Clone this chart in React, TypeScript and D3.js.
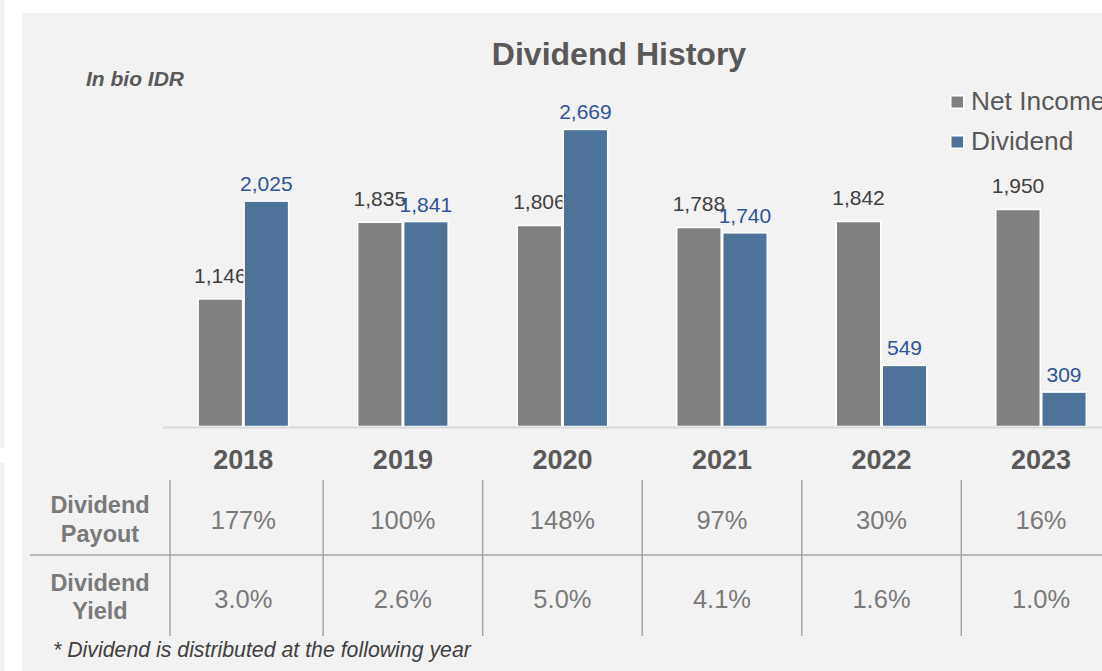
import React from "react";
import * as d3 from "d3";

const years = ["2018", "2019", "2020", "2021", "2022", "2023"];
const netIncome = [1146, 1835, 1806, 1788, 1842, 1950];
const dividend = [2025, 1841, 2669, 1740, 549, 309];
const seriesNames = ["Net Income", "Dividend"];
const payout = ["177%", "100%", "148%", "97%", "30%", "16%"];
const yieldVals = ["3.0%", "2.6%", "5.0%", "4.1%", "1.6%", "1.0%"];

const W = 1102;
const H = 671;
const FONT = "'Liberation Sans', Arial, Helvetica, sans-serif";
const GRAY_BAR = "#808080";
const BLUE_BAR = "#4e7399";
const BLUE_TXT = "#2f5597";
const DARK_TXT = "#404040";
const TXT = "#595959";
const LIGHT_TXT = "#7a7a7a";

export default function App() {
  const x0 = d3.scaleBand<string>().domain(years).range([163.6, 1120.8]).paddingInner(0).paddingOuter(0);
  const step = x0.bandwidth();
  const pairW = 92;
  const x1 = d3.scaleBand<string>().domain(seriesNames).range([0, pairW]).padding(0);
  const y = d3.scaleLinear().domain([0, 3000]).range([426.5, 426.5 - 333.9]);
  const baseY = y(0);
  const center = (yr: string) => (x0(yr) as number) + step / 2;
  const fmt = d3.format(",");

  const series = [
    { name: seriesNames[0], values: netIncome, fill: GRAY_BAR, label: DARK_TXT, gap: 16 },
    { name: seriesNames[1], values: dividend, fill: BLUE_BAR, label: BLUE_TXT, gap: 10 },
  ];

  const vLines = years.map((yr, i) => (i === 0 ? 170 : x0(yr) as number));

  return (
    <svg
      width={W}
      height={H}
      style={{ position: "absolute", left: 0, top: 0, display: "block" }}
      fontFamily={FONT}
    >
      <rect x={0} y={0} width={W} height={H} fill="#ffffff" />
      <rect x={0} y={0} width={4.5} height={448} fill="#f2f2f2" />
      <rect x={0} y={463} width={4.5} height={H - 463} fill="#f2f2f2" />
      <rect x={22} y={13} width={W - 22} height={H - 13} fill="#f2f2f2" />

      <text x={619} y={65} textAnchor="middle" fontSize={32} fontWeight="bold" fill={TXT}>
        Dividend History
      </text>
      <text x={86} y={86} fontSize={21} fontWeight="bold" fontStyle="italic" fill={TXT}>
        In bio IDR
      </text>

      {/* legend */}
      {series.map((s, i) => (
        <g key={s.name} transform={`translate(950,${95 + i * 40})`}>
          <rect x={0.75} y={0.75} width={13} height={12.5} fill={s.fill} stroke="#ffffff" strokeWidth={1.5} />
          <text x={21} y={14.5} fontSize={26.3} fill={TXT}>
            {s.name}
          </text>
        </g>
      ))}

      {/* bars */}
      {years.map((yr, i) => {
        const gx = center(yr) - pairW / 2;
        return (
          <g key={yr}>
            {series.map((s) => {
              const bx = gx + (x1(s.name) as number);
              const bw = x1.bandwidth();
              const top = y(s.values[i]);
              return (
                <g key={s.name}>
                  <rect
                    x={bx + 0.75}
                    y={top}
                    width={bw - 1.5}
                    height={baseY - top}
                    fill={s.fill}
                    stroke="#ffffff"
                    strokeWidth={1.5}
                  />
                  <text
                    x={bx + bw / 2}
                    y={top - s.gap}
                    textAnchor="middle"
                    fontSize={21}
                    fill={s.label}
                  >
                    {fmt(s.values[i])}
                  </text>
                </g>
              );
            })}
          </g>
        );
      })}

      <line x1={163} x2={W} y1={baseY + 1} y2={baseY + 1} stroke="#d9d9d9" strokeWidth={2} />

      {/* year labels */}
      {years.map((yr) => (
        <text key={yr} x={center(yr)} y={469} textAnchor="middle" fontSize={27} fontWeight="bold" fill={TXT}>
          {yr}
        </text>
      ))}

      {/* table lines */}
      {vLines.map((vx, i) => (
        <line key={i} x1={vx} x2={vx} y1={480} y2={636} stroke="#a6a6a6" strokeWidth={1.5} />
      ))}
      <line x1={30} x2={W} y1={555} y2={555} stroke="#a6a6a6" strokeWidth={1.5} />

      {/* row labels */}
      <text x={100} y={513} textAnchor="middle" fontSize={23.5} fontWeight="bold" fill={LIGHT_TXT}>
        Dividend
      </text>
      <text x={100} y={542} textAnchor="middle" fontSize={23.5} fontWeight="bold" fill={LIGHT_TXT}>
        Payout
      </text>
      <text x={100} y={591} textAnchor="middle" fontSize={23.5} fontWeight="bold" fill={LIGHT_TXT}>
        Dividend
      </text>
      <text x={100} y={619} textAnchor="middle" fontSize={23.5} fontWeight="bold" fill={LIGHT_TXT}>
        Yield
      </text>

      {years.map((yr, i) => (
        <g key={yr}>
          <text x={center(yr)} y={528.5} textAnchor="middle" fontSize={25.5} fill={LIGHT_TXT}>
            {payout[i]}
          </text>
          <text x={center(yr)} y={607.5} textAnchor="middle" fontSize={25.5} fill={LIGHT_TXT}>
            {yieldVals[i]}
          </text>
        </g>
      ))}

      <text x={53} y={657} fontSize={21.3} fontStyle="italic" fill={DARK_TXT}>
        * Dividend is distributed at the following year
      </text>
    </svg>
  );
}
